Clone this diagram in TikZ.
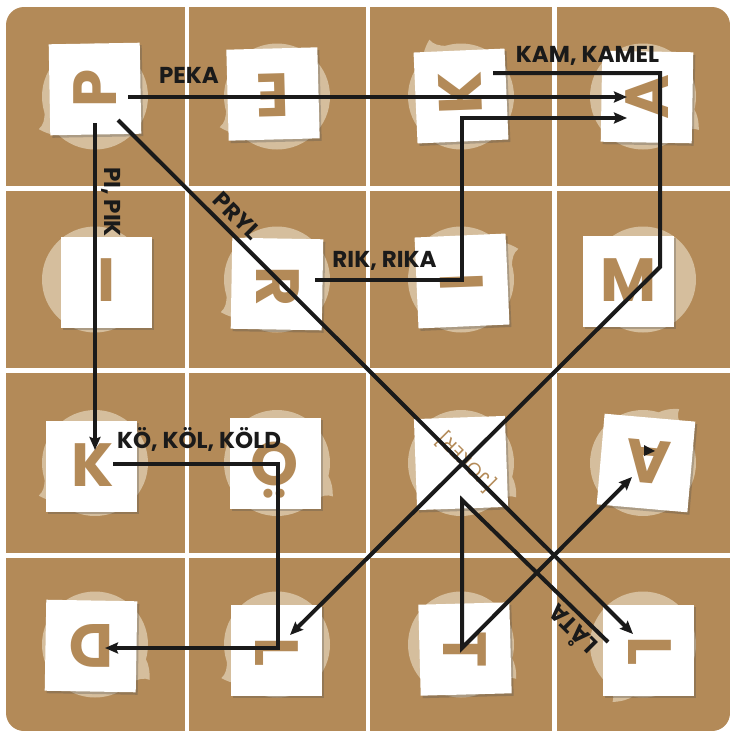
\documentclass[tikz,border=0pt]{standalone}
\usepackage{fontspec}
\setmainfont{Poppins}
\usetikzlibrary{arrows.meta,shadows}
\definecolor{tanc}{HTML}{B38A58}
\definecolor{bub}{HTML}{D5BE9D}
\definecolor{ink}{HTML}{1A1A1A}
\tikzset{
  card/.style={fill=white, minimum size=91pt, inner sep=0pt,
    drop shadow={shadow xshift=2pt, shadow yshift=-2.5pt, opacity=0.3, fill=black!70}},
  glyph/.style={text=tanc, font=\fontsize{61}{61}\selectfont\bfseries, inner sep=0pt},
  jokertext/.style={text=tanc, font=\fontsize{19}{19}\selectfont, inner sep=0pt},
  lbl/.style={text=ink, font=\fontsize{23}{23}\selectfont\bfseries, inner sep=0pt},
  conn/.style={draw=ink, line width=4pt},
  arr/.style={conn, -{Stealth[length=13pt,width=11pt,inset=2pt]}},
}
\newcommand\bubtail[3]{\fill[bub, shift={(#1,-#2)}, rotate=#3] (50,15) .. controls (56,12) and (61,6) .. (65,-1) .. controls (59,-2) and (55,-6) .. (51,-13) -- cycle;}
\begin{document}
\begin{tikzpicture}[x=1pt,y=1pt]
\useasboundingbox (0,0) rectangle (730,-731);
% background grid
\fill[tanc, rounded corners=18pt] (6,-7) rectangle (730,-731);
\fill[white] (184.5,-7) rectangle (189,-731);
\fill[white] (365.5,-7) rectangle (370,-731);
\fill[white] (551.5,-7) rectangle (556.5,-731);
\fill[white] (6,-186) rectangle (730,-191);
\fill[white] (6,-368) rectangle (730,-373);
\fill[white] (6,-553) rectangle (730,-558);
% speech bubbles
\foreach \cx in {95,277,461,643}{
  \foreach \cy in {96.5,279.5,463,644.5}{
    \fill[bub] (\cx,-\cy) circle (53);
  }
}
\bubtail{95}{96.5}{211}
\bubtail{277}{96.5}{209}
\bubtail{461}{96.5}{120}
\bubtail{643}{96.5}{-30}
\bubtail{277}{279.5}{211}
\bubtail{461}{279.5}{29}
\bubtail{95}{463}{211}
\bubtail{277}{463}{-30}
\bubtail{461}{463}{-31}
\bubtail{643}{463}{57}
\bubtail{95}{644.5}{-32}
\bubtail{277}{644.5}{212}
\bubtail{461}{644.5}{-31}
\bubtail{643}{644.5}{243}
% cards
\node[card, rotate=1]   (cP)  at (95,-89)   {};
\node[card, rotate=1.5] (cE)  at (273,-94)  {};
\node[card, rotate=2.5] (cKa) at (461,-96)  {};
\node[card, rotate=-1]  (cAa) at (647,-97)  {};
\node[card]             (cIa) at (106,-282) {};
\node[card, rotate=-1]  (cR)  at (277,-284) {};
\node[card, rotate=2.5] (cIb) at (462,-281) {};
\node[card]             (cM)  at (628,-281) {};
\node[card]             (cKb) at (91,-466)  {};
\node[card]             (cO)  at (275,-463) {};
\node[card, rotate=2]   (cJ)  at (461,-463) {};
\node[card, rotate=-5]  (cAb) at (646,-463) {};
\node[card, rotate=-1]  (cD)  at (91,-646)  {};
\node[card]             (cLa) at (276,-650) {};
\node[card, rotate=1.5] (cT)  at (465,-649) {};
\node[card]             (cLb) at (648,-650) {};
% letters
\node[glyph, rotate=90]    (gP)  at (95,-88)   {P};
\node[glyph, rotate=181.5] (gE)  at (273,-95)  {E};
\node[glyph, rotate=92]    (gKa) at (460,-93)  {K};
\node[glyph, rotate=90]    (gAa) at (647,-97)  {A};
\node[glyph]               (gIa) at (106,-280) {I};
\node[glyph, rotate=-90]   (gR)  at (278,-286) {R};
\node[glyph, rotate=92]    (gIb) at (462,-282) {I};
\node[glyph]               (gM)  at (628,-280) {M};
\node[glyph]               (gKb) at (93,-465)  {K};
\node[glyph, rotate=180]   (gO)  at (275,-470) {Ö};
\node[jokertext, rotate=135] (gJ) at (466,-462) {[JOKER]};
\node[glyph, rotate=175]   (gAb) at (648,-462) {A};
\node[glyph, rotate=180]   (gD)  at (91,-646)  {D};
\node[glyph, rotate=-90]   (gLa) at (277,-652) {L};
\node[glyph, rotate=-90]   (gT)  at (465,-650) {T};
\node[glyph, rotate=-90]   (gLb) at (650,-651) {L};
% connector points
\coordinate (pekaS) at (128,-97);
\coordinate (pekaE) at (627,-97);
\coordinate (kamS) at (493,-73);
\coordinate (kam1) at (660,-73);
\coordinate (kam2) at (660,-267);
\coordinate (kamE) at (290,-635);
\coordinate (rikS) at (315,-280);
\coordinate (rik1) at (462,-280);
\coordinate (rik2) at (462,-118);
\coordinate (rikE) at (627,-118);
\coordinate (piS) at (95,-123);
\coordinate (piE) at (95,-450);
\coordinate (prylS) at (118,-120);
\coordinate (prylE) at (633,-634);
\coordinate (kolS) at (113,-464);
\coordinate (kol1) at (278,-464);
\coordinate (kol2) at (278,-648);
\coordinate (kolE) at (105,-648);
\coordinate (lataS) at (608,-642);
\coordinate (lata1) at (462,-500);
\coordinate (lata2) at (462,-648);
\coordinate (lataE) at (632,-477);
% connectors
\draw[arr] (pekaS) -- (pekaE);
\draw[arr] (kamS) -- (kam1) -- (kam2) -- (kamE);
\draw[arr] (rikS) -- (rik1) -- (rik2) -- (rikE);
\draw[arr] (piS) -- (piE);
\draw[arr] (prylS) -- (prylE);
\draw[arr] (kolS) -- (kol1) -- (kol2) -- (kolE);
\draw[arr] (lataS) -- (lata1) -- (lata2) -- (lataE);
% small mark in the A card
\fill[ink] (644,-445) -- (644,-456) -- (655,-451) -- cycle;
% labels
\node[lbl, anchor=base] (lPeka) at (189,-83) {PEKA};
\node[lbl, anchor=base] (lKam) at (587.5,-62) {KAM, KAMEL};
\node[lbl, anchor=base] (lRik) at (384.5,-267) {RIK, RIKA};
\node[lbl, anchor=base] (lKol) at (199,-448) {KÖ, KÖL, KÖLD};
\node[lbl, anchor=base west, rotate=-90] (lPi) at (104,-167) {PI, PIK};
\node[lbl, rotate=-45] (lPryl) at (237,-216) {PRYL};
\node[lbl, rotate=135] (lLata) at (571,-631) {LÅTA};
\end{tikzpicture}
\end{document}
